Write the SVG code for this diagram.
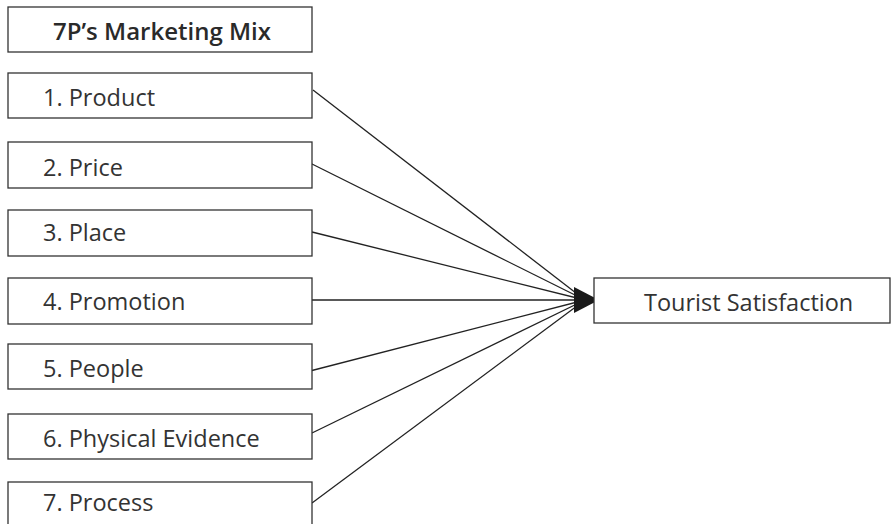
<svg xmlns="http://www.w3.org/2000/svg" width="891" height="524" viewBox="0 0 891 524">
<defs>
<style>
.box{fill:#ffffff;stroke:#333333;stroke-width:1.3}
.lbl{font-family:"Open Sans","Liberation Sans",sans-serif;font-size:23.5px;fill:#333333}
.ttl{font-family:"Open Sans","Liberation Sans",sans-serif;font-size:24px;font-weight:600;fill:#2a2a2a}
.con{stroke:#222222;stroke-width:1.3;fill:none}
</style>
<marker id="arrow" markerUnits="userSpaceOnUse" markerWidth="26" markerHeight="28" refX="25" refY="13" orient="auto">
<path d="M0,0 L25,13 L0,26 z" fill="#1a1a1a"/>
</marker>
</defs>
<rect width="891" height="524" fill="#ffffff"/>
<g id="connectors">
<line class="con" x1="313" y1="90" x2="585" y2="300"/>
<line class="con" x1="310" y1="163" x2="585" y2="300"/>
<line class="con" x1="312" y1="232" x2="585" y2="300"/>
<line class="con" x1="310" y1="371" x2="585" y2="300"/>
<line class="con" x1="312" y1="433" x2="585" y2="300"/>
<line class="con" x1="312" y1="503" x2="585" y2="300"/>
<line class="con" x1="312" y1="300" x2="599" y2="300" marker-end="url(#arrow)"/>
</g>
<g id="title">
<rect class="box" x="8" y="7" width="304" height="45"/>
<text class="ttl" x="53" y="40">7P’s Marketing Mix</text>
</g>
<g id="product">
<rect class="box" x="8" y="73" width="304" height="45"/>
<text class="lbl" x="43" y="106">1. Product</text>
</g>
<g id="price">
<rect class="box" x="8" y="142" width="304" height="46"/>
<text class="lbl" x="43" y="176">2. Price</text>
</g>
<g id="place">
<rect class="box" x="8" y="210" width="304" height="46"/>
<text class="lbl" x="43" y="241">3. Place</text>
</g>
<g id="promotion">
<rect class="box" x="8" y="278" width="304" height="46"/>
<text class="lbl" x="43" y="310">4. Promotion</text>
</g>
<g id="people">
<rect class="box" x="8" y="344" width="304" height="45"/>
<text class="lbl" x="43" y="377">5. People</text>
</g>
<g id="evidence">
<rect class="box" x="8" y="414" width="304" height="45"/>
<text class="lbl" x="43" y="447">6. Physical Evidence</text>
</g>
<g id="process">
<rect class="box" x="8" y="482" width="304" height="46"/>
<text class="lbl" x="43" y="511">7. Process</text>
</g>
<g id="satisfaction">
<rect class="box" x="594" y="278" width="296" height="45"/>
<text class="lbl" x="644" y="311">Tourist Satisfaction</text>
</g>
</svg>
